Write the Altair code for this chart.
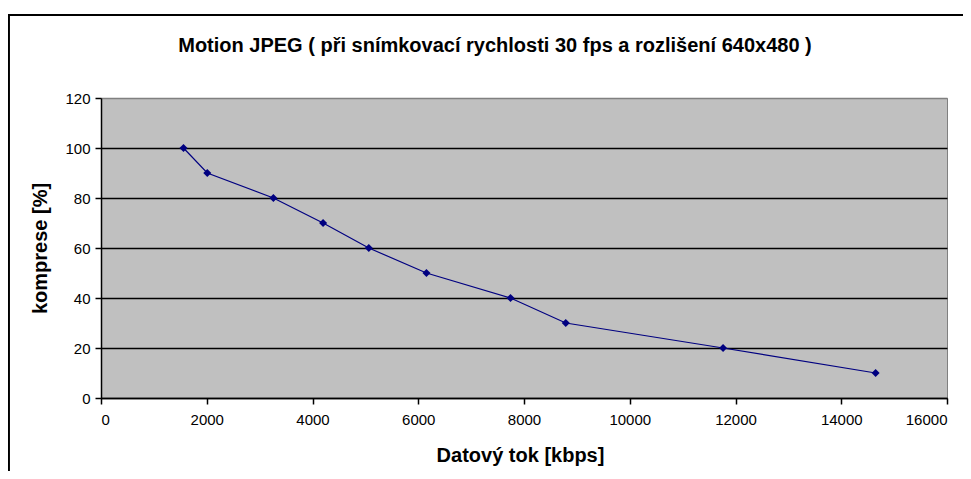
import altair as alt
import pandas as pd

bitrate = [1560, 2010, 3260, 4200, 5065, 6155, 7745, 8790, 11765, 14650]
compression = [100, 90, 80, 70, 60, 50, 40, 30, 20, 10]
x_ticks = [0, 2000, 4000, 6000, 8000, 10000, 12000, 14000, 16000]
y_ticks = [0, 20, 40, 60, 80, 100, 120]

df = pd.DataFrame({"rate": bitrate, "comp": compression})

FONT = "Liberation Sans"
W, H = 846, 300

xenc = alt.X("rate:Q", scale=alt.Scale(domain=[0, 16000], nice=False),
             axis=alt.Axis(values=x_ticks, grid=False, title="Datový tok [kbps]",
                           titleY=57, titleBaseline="middle", titleX=W / 2 - 4,
                           labelPadding=8, format="d"))
yenc = alt.Y("comp:Q", scale=alt.Scale(domain=[0, 120], nice=False),
             axis=alt.Axis(values=y_ticks, grid=True, title="komprese [%]",
                           titleX=-61, titleY=150, titleBaseline="middle",
                           titleAlign="center", labelPadding=5,
                           gridColor=alt.condition("datum.value == 120",
                                                   alt.value("#808080"),
                                                   alt.value("black"))))

line = alt.Chart(df).mark_line(color="#000080", strokeWidth=1.2).encode(x=xenc, y=yenc)
pts = alt.Chart(df).mark_point(shape="diamond", filled=True, color="#000080",
                               size=65, opacity=1).encode(x="rate:Q", y="comp:Q")

frame = alt.Chart(df).mark_rect(fill=None, stroke="black", strokeWidth=1.5).encode(
    x=alt.value(-92.5), x2=alt.value(W + 40), y=alt.value(-83), y2=alt.value(H + 120))

chart = alt.layer(frame, line, pts).properties(
    width=W, height=H,
    background="white",
    title=alt.TitleParams(
        "Motion JPEG ( při snímkovací rychlosti 30 fps a rozlišení 640x480 )",
        anchor="middle", frame="group", dx=-29, offset=0, dy=42,
        font=FONT, fontSize=20, fontWeight="bold", color="black"),
    autosize=alt.AutoSizeParams(type="none"),
    padding={"left": 93, "top": 90, "right": 16, "bottom": 73},
).configure_view(fill="#C0C0C0", stroke="#808080", strokeWidth=1
).configure_axis(
    domainColor="black", domainWidth=1.5, tickColor="black", tickSize=6, tickWidth=1.5,
    labelFont=FONT, labelFontSize=15, labelColor="black",
    titleFont=FONT, titleFontSize=20, titleFontWeight="bold", titleColor="black",
    gridWidth=1.5
)

chart.save("out.html", embed_options={"renderer": "svg", "actions": False})
